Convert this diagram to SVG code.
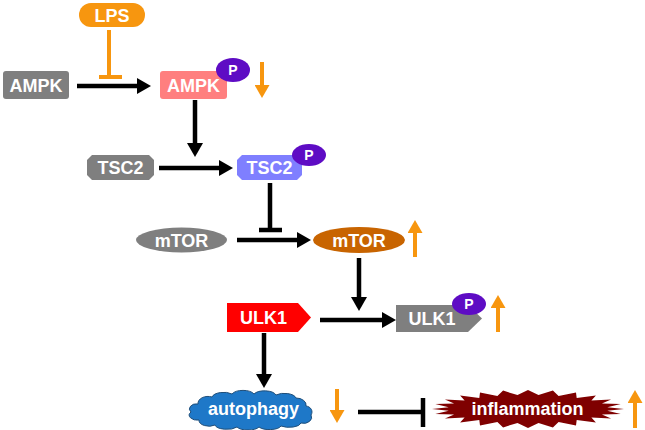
<svg xmlns="http://www.w3.org/2000/svg" width="645" height="430" viewBox="0 0 645 430">
<style>
text{font-family:"Liberation Sans",Arial,sans-serif;font-weight:bold;fill:#fff;text-anchor:middle}
.lbl{font-size:18px}
.p{font-size:14px}
.c{fill:none;stroke:#000;stroke-width:4.5}
.o{fill:none;stroke:#F7960F;stroke-width:4}
.ph{fill:#5E0CC4}
</style>
<defs>
<marker id="ah" markerUnits="userSpaceOnUse" markerWidth="16" markerHeight="16" refX="6" refY="8" orient="auto" viewBox="0 0 16 16">
<path d="M0,0 L14,8 L0,16 z" fill="#000"/>
</marker>
<marker id="oh" markerUnits="userSpaceOnUse" markerWidth="15" markerHeight="15" refX="5" refY="7.5" orient="auto" viewBox="0 0 15 15">
<path d="M0,0 L13,7.5 L0,15 z" fill="#F7960F"/>
</marker>
</defs>
<g id="connectors">
<path class="o" d="M109,30 V77 M99,77 H122"/>
<path class="c" d="M77,86 H143" marker-end="url(#ah)"/>
<path class="c" d="M195,100 V149" marker-end="url(#ah)"/>
<path class="c" d="M159,168 H225" marker-end="url(#ah)"/>
<path class="c" d="M270,183 V230 M259,230 H282"/>
<path class="c" d="M237,240 H303" marker-end="url(#ah)"/>
<path class="c" d="M359,258 V303" marker-end="url(#ah)"/>
<path class="c" d="M320,320 H388" marker-end="url(#ah)"/>
<path class="c" d="M264,333 V380" marker-end="url(#ah)"/>
<path class="c" d="M358,412 H423 M423,398 V427"/>
</g>
<g id="updown">
<path class="o" d="M262,62 V90" marker-end="url(#oh)"/>
<path class="o" d="M415,257 V228" marker-end="url(#oh)"/>
<path class="o" d="M498,332 V303" marker-end="url(#oh)"/>
<path class="o" d="M337,389 V415" marker-end="url(#oh)"/>
<path class="o" d="M635,428 V398" marker-end="url(#oh)"/>
</g>
<g id="LPS">
<rect x="79" y="3" width="66" height="24" rx="12" fill="#F7960F"/>
<text class="lbl" x="112" y="21.5">LPS</text>
</g>
<g id="AMPK">
<rect x="3" y="71" width="66" height="28" rx="3" fill="#7F7F7F"/>
<text class="lbl" x="36" y="91.5">AMPK</text>
</g>
<g id="pAMPK">
<rect x="160" y="71" width="67" height="28" rx="3" fill="#FF7F7F"/>
<text class="lbl" x="193.5" y="91.5">AMPK</text>
<ellipse class="ph" cx="233" cy="70" rx="17" ry="12"/>
<text class="p" x="233" y="75">P</text>
</g>
<g id="TSC2">
<polygon points="92,155 149,155 154,160 154,175 149,180 92,180 87,175 87,160" fill="#7F7F7F"/>
<text class="lbl" x="120.5" y="174">TSC2</text>
</g>
<g id="pTSC2">
<polygon points="242,155 297,155 302,160 302,175 297,180 242,180 237,175 237,160" fill="#7F7FFF"/>
<text class="lbl" x="269.5" y="174">TSC2</text>
<ellipse class="ph" cx="309" cy="155" rx="17" ry="11"/>
<text class="p" x="309" y="160">P</text>
</g>
<g id="mTOR">
<ellipse cx="181.5" cy="240" rx="45.5" ry="12.5" fill="#7F7F7F"/>
<text class="lbl" x="181.5" y="246.5">mTOR</text>
</g>
<g id="amTOR">
<ellipse cx="359" cy="240" rx="46" ry="13" fill="#C86400"/>
<text class="lbl" x="359" y="246.5">mTOR</text>
</g>
<g id="ULK1">
<polygon points="227,303 298,303 311,317.5 298,332 227,332" fill="#FF0000"/>
<text class="lbl" x="263.5" y="324">ULK1</text>
</g>
<g id="pULK1">
<polygon points="396,305 468,305 482,318.5 468,332 396,332" fill="#7F7F7F"/>
<text class="lbl" x="432" y="325">ULK1</text>
<ellipse class="ph" cx="469" cy="304" rx="17" ry="11"/>
<text class="p" x="469" y="309">P</text>
</g>
<g id="autophagy">
<path d="M198,404 a10,7 0 0 1 14,-7 a12,6 0 0 1 20,-3 a12,6 0 0 1 22,0 a12,6 0 0 1 22,1 a12,6 0 0 1 20,3 a10,7 0 0 1 10,8 a7,6 0 0 1 5,9 a8,6 0 0 1 -10,8 a12,5 0 0 1 -20,3 a12,5 0 0 1 -22,1 a12,5 0 0 1 -22,0 a12,5 0 0 1 -22,-2 a10,6 0 0 1 -16,-5 a8,5 0 0 1 -8,-8 a7,5 0 0 1 7,-8 z" fill="#1E78C8" stroke="#1F4E79" stroke-width="1"/>
<text class="lbl" x="253.5" y="415">autophagy</text>
</g>
<g id="inflammation">
<polygon fill="#7F0000" points="624,409 607.3,410.8 620.7,413.9 601.9,414.4 611.1,418.5 591.4,417.5 595.9,422.4 576.7,420.1 576,425.5 558.6,421.9 552.9,427.4 538.5,422.9 528,428 517.5,422.9 503.1,427.4 497.4,421.9 480,425.5 479.3,420.1 460.1,422.4 464.6,417.5 444.9,418.5 454.1,414.4 435.3,413.9 448.7,410.8 432,409 448.7,407.2 435.3,404.1 454.1,403.6 444.9,399.5 464.6,400.5 460.1,395.6 479.3,397.9 480,392.5 497.4,396.1 503.1,390.6 517.5,395.1 528,390 538.5,395.1 552.9,390.6 558.6,396.1 576,392.5 576.7,397.9 595.9,395.6 591.4,400.5 611.1,399.5 601.9,403.6 620.7,404.1 607.3,407.2"/>
<text class="lbl" x="527.5" y="415">inflammation</text>
</g>
</svg>
